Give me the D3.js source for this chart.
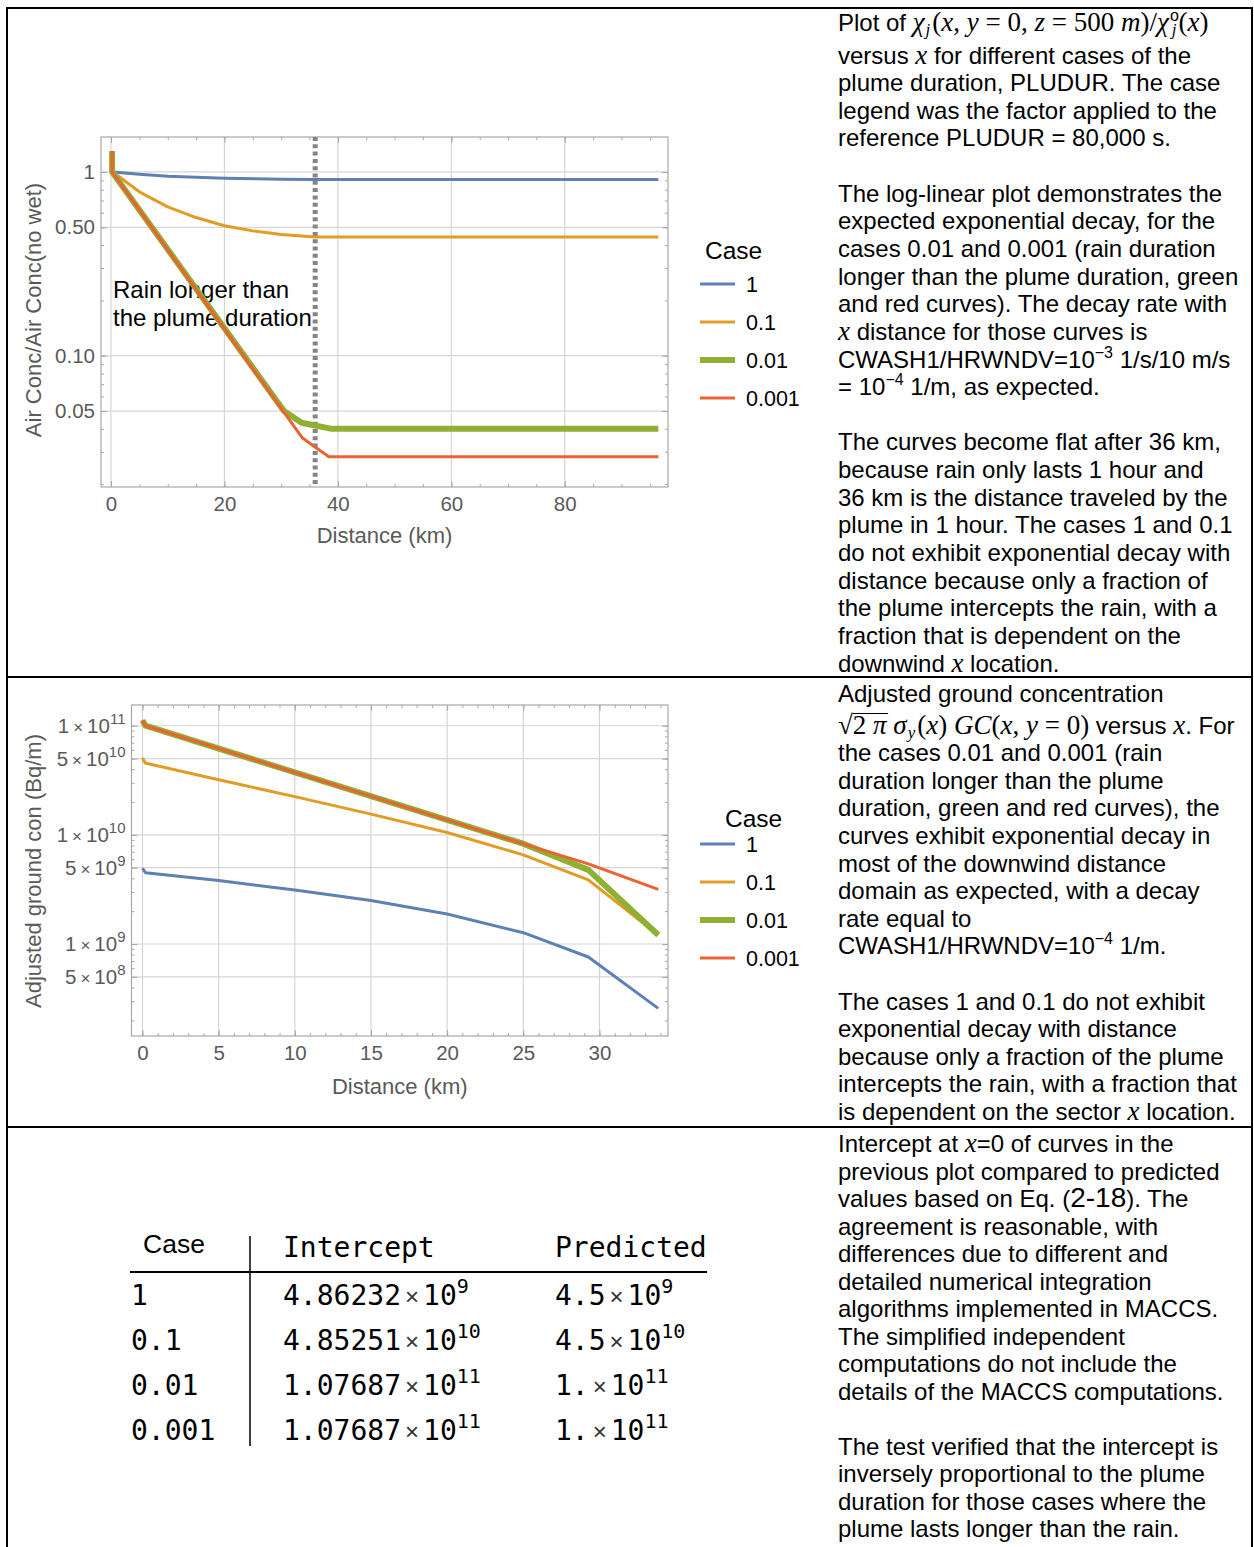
<!DOCTYPE html>
<html>
<head>
<meta charset="utf-8">
<script src="https://cdn.jsdelivr.net/npm/d3@7"></script>
<style>
  body { margin: 0; background: #fff; }
</style>
</head>
<body>
<svg id="page" width="1254" height="1547"></svg>
<script>
"use strict";

// ---- data ----
const caseNames = ["1", "0.1", "0.01", "0.001"];
const caseColors = ["#5e81b5", "#e19c24", "#8fb032", "#eb6235"];
const caseWidths = [3, 3, 6, 3];

// plot 1: Air Conc / Air Conc(no wet) vs distance (km)
const air1X = [0.3, 5, 10, 20, 30, 36, 96.5];
const air1Y = [1.0, 0.972, 0.948, 0.925, 0.913, 0.91, 0.91];
const air01X = [0.3, 5, 10, 15, 20, 25, 30, 36, 96.5];
const air01Y = [1.0, 0.78, 0.646, 0.565, 0.51, 0.478, 0.457, 0.443, 0.443];
const air001X = [0.2, 0.2, 30.5, 33.6, 38.9, 96.5];
const air001Y = [1.3, 1.0, 0.05, 0.0432, 0.040, 0.040];
const air0001X = [0.2, 0.2, 33.7, 38.4, 96.5];
const air0001Y = [1.3, 1.0, 0.0358, 0.0282, 0.0282];
const airXTicks = [0, 20, 40, 60, 80];
const airYTicks = [1, 0.5, 0.1, 0.05];
const airYLabels = ["1", "0.50", "0.10", "0.05"];
const rainEndKm = 36;

// plot 2: adjusted ground concentration (Bq/m) vs distance (km)
const gc1X = [0, 0.2, 5, 10, 15, 20, 25, 29.27, 33.86];
const gc1Y = [4.94e9, 4.5e9, 3.81e9, 3.12e9, 2.5e9, 1.88e9, 1.27e9, 7.6e8, 2.57e8];
const gc01X = [0, 0.18, 5, 10, 15, 20, 25, 29.27, 33.86];
const gc01Y = [5.06e10, 4.55e10, 3.2e10, 2.24e10, 1.55e10, 1.05e10, 6.56e9, 3.87e9, 1.21e9];
const gc001X = [0, 0.2, 25, 29.27, 33.86];
const gc001Y = [1.12e11, 1.0e11, 8.3e9, 4.78e9, 1.21e9];
const gc0001X = [0, 0.2, 25, 29.27, 33.86];
const gc0001Y = [1.12e11, 1.0e11, 8.26e9, 5.42e9, 3.17e9];
const gcXTicks = [0, 5, 10, 15, 20, 25, 30];
const gcYTicks = [1e11, 5e10, 1e10, 5e9, 1e9, 5e8];
const gcYMant = ["1", "5", "1", "5", "1", "5"];
const gcYExp = ["11", "10", "10", "9", "9", "8"];

// table
const tableCases = ["1", "0.1", "0.01", "0.001"];
const interceptMant = ["4.86232", "4.85251", "1.07687", "1.07687"];
const interceptExp = ["9", "10", "11", "11"];
const predictedMant = ["4.5", "4.5", "1.", "1."];
const predictedExp = ["9", "10", "11", "11"];

// ---- page ----
const svg = d3.select("#page");
const sans = "'Liberation Sans', Arial, sans-serif";
const serif = "'Liberation Serif', 'Times New Roman', serif";
const mono = "'DejaVu Sans Mono', monospace";
const frameColor = "#a8a8a8";
const gridColor = "#d6d6d6";
const labelColor = "#5a5a5a";

svg.append("rect").attr("width", 1254).attr("height", 1547).attr("fill", "#fff");

// cell borders
const borders = [[7, 8, 1253, 8], [7, 677, 1253, 677], [7, 1127, 1253, 1127], [7, 7, 7, 1547], [1252, 7, 1252, 1547]];
svg.selectAll(".border").data(borders).join("line")
    .attr("x1", d => d[0]).attr("y1", d => d[1]).attr("x2", d => d[2]).attr("y2", d => d[3])
    .attr("stroke", "#000").attr("stroke-width", 2);

function styleAxis(g) {
    g.select(".domain").remove();
    g.selectAll("line").attr("stroke", frameColor);
    g.selectAll("text").attr("fill", labelColor).attr("font-family", sans).attr("font-size", 20.5);
}

function minorLog(y) {
    let d = y.domain(), lo = Math.min(d[0], d[1]), hi = Math.max(d[0], d[1]);
    let out = [];
    for (let e = Math.floor(Math.log10(lo)); e <= Math.ceil(Math.log10(hi)); e++) {
        for (let m = 1; m < 10; m++) {
            let v = m * Math.pow(10, e);
            if (v >= lo && v <= hi) out.push(v);
        }
    }
    return out;
}

function drawPlot(p) {
    let g = svg.append("g");
    let [x0, x1] = p.x.range(), [y0, y1] = p.y.range();

    g.selectAll(".gx").data(p.xTicks).join("line")
        .attr("x1", d => p.x(d)).attr("x2", d => p.x(d)).attr("y1", y0).attr("y2", y1)
        .attr("stroke", gridColor).attr("stroke-width", 1.2);
    g.selectAll(".gy").data(p.yTicks).join("line")
        .attr("y1", d => p.y(d)).attr("y2", d => p.y(d)).attr("x1", x0).attr("x2", x1)
        .attr("stroke", gridColor).attr("stroke-width", 1.2);

    let xMinor = d3.range(Math.ceil(p.x.domain()[0] / p.xMinorStep) * p.xMinorStep, p.x.domain()[1], p.xMinorStep);
    let yMinor = minorLog(p.y);

    g.append("g").attr("transform", `translate(0,${y1})`)
        .call(d3.axisBottom(p.x).tickValues(xMinor).tickSize(-3).tickFormat("")).call(styleAxis);
    g.append("g").attr("transform", `translate(0,${y0})`)
        .call(d3.axisTop(p.x).tickValues(xMinor).tickSize(-3).tickFormat("")).call(styleAxis);
    g.append("g").attr("transform", `translate(${x0},0)`)
        .call(d3.axisLeft(p.y).tickValues(yMinor).tickSize(-3).tickFormat("")).call(styleAxis);
    g.append("g").attr("transform", `translate(${x1},0)`)
        .call(d3.axisRight(p.y).tickValues(yMinor).tickSize(-3).tickFormat("")).call(styleAxis);

    g.append("g").attr("transform", `translate(0,${y1})`)
        .call(d3.axisBottom(p.x).tickValues(p.xTicks).tickSize(-6).tickPadding(9)).call(styleAxis);
    g.append("g").attr("transform", `translate(0,${y0})`)
        .call(d3.axisTop(p.x).tickValues(p.xTicks).tickSize(-6).tickFormat("")).call(styleAxis);
    let left = g.append("g").attr("transform", `translate(${x0},0)`)
        .call(d3.axisLeft(p.y).tickValues(p.yTicks).tickSize(-6).tickPadding(p.yPad)
            .tickFormat((d, i) => p.yLabels[i])).call(styleAxis);
    g.append("g").attr("transform", `translate(${x1},0)`)
        .call(d3.axisRight(p.y).tickValues(p.yTicks).tickSize(-6).tickFormat("")).call(styleAxis);
    if (p.sciLabels) p.sciLabels(left);

    g.append("rect").attr("x", x0).attr("y", y0).attr("width", x1 - x0).attr("height", y1 - y0)
        .attr("fill", "none").attr("stroke", frameColor).attr("stroke-width", 1.2);

    if (p.extra) p.extra(g, p.x);

    let line = d3.line().x(d => p.x(d[0])).y(d => p.y(d[1]));
    p.series.forEach((s, i) => {
        g.append("path").attr("d", line(d3.zip(s[0], s[1])))
            .attr("fill", "none").attr("stroke", caseColors[i]).attr("stroke-width", caseWidths[i])
            .attr("stroke-linejoin", "round");
    });

    g.append("text").attr("x", (x0 + x1) / 2).attr("y", p.xTitleY).attr("text-anchor", "middle")
        .attr("font-family", sans).attr("font-size", 22).attr("fill", labelColor).text("Distance (km)");
    g.append("text").attr("transform", `translate(${p.yTitlePos[0]},${p.yTitlePos[1]}) rotate(-90)`)
        .attr("text-anchor", "middle").attr("font-family", sans).attr("font-size", 22)
        .attr("fill", labelColor).text(p.yTitle);

    // legend
    let lg = svg.append("g").attr("transform", `translate(700,${p.legendY})`);
    lg.append("text").attr("x", p.caseX).attr("y", 0).attr("dy", "0.35em")
        .attr("font-family", sans).attr("font-size", 24.5).attr("fill", "#000").text("Case");
    let items = lg.selectAll(".item").data(caseNames).join("g")
        .attr("transform", (d, i) => `translate(0,${p.firstItem + i * 38})`);
    items.append("line").attr("x1", 0).attr("x2", 35)
        .attr("stroke", (d, i) => caseColors[i]).attr("stroke-width", (d, i) => caseWidths[i]);
    items.append("text").attr("x", 46).attr("dy", "0.35em").attr("font-family", sans)
        .attr("font-size", 21.5).attr("fill", "#000").text(d => d);
}

// plot 1
drawPlot({
    x: d3.scaleLinear().domain([-1.76, 98.2]).range([101, 668]),
    y: d3.scaleLog().domain([1.55, 0.0193]).range([137, 487]),
    xTicks: airXTicks, xMinorStep: 5,
    yTicks: airYTicks, yLabels: airYLabels, yPad: 6,
    series: [[air1X, air1Y], [air01X, air01Y], [air001X, air001Y], [air0001X, air0001Y]],
    xTitleY: 543, yTitle: "Air Conc/Air Conc(no wet)", yTitlePos: [41, 310],
    legendY: 250, caseX: 5, firstItem: 34,
    extra: (g, x) => {
        g.append("line").attr("x1", x(rainEndKm)).attr("x2", x(rainEndKm)).attr("y1", 137).attr("y2", 487)
            .attr("stroke", "#858585").attr("stroke-width", 5).attr("stroke-dasharray", "4,3.3");
        g.append("text").attr("x", 113).attr("y", 298).attr("font-family", sans).attr("font-size", 24)
            .attr("fill", "#000").text("Rain longer than");
        g.append("text").attr("x", 113).attr("y", 326).attr("font-family", sans).attr("font-size", 24)
            .attr("fill", "#000").text("the plume duration");
    }
});

// plot 2
drawPlot({
    x: d3.scaleLinear().domain([-0.72, 34.5]).range([131.5, 668]),
    y: d3.scaleLog().domain([Math.pow(10, 11.19), Math.pow(10, 8.157)]).range([705, 1036]),
    xTicks: gcXTicks, xMinorStep: 1,
    yTicks: gcYTicks, yLabels: gcYMant, yPad: 6,
    series: [[gc1X, gc1Y], [gc01X, gc01Y], [gc001X, gc001Y], [gc0001X, gc0001Y]],
    xTitleY: 1094, yTitle: "Adjusted ground con (Bq/m)", yTitlePos: [41, 871],
    legendY: 818, caseX: 25, firstItem: 26,
    sciLabels: left => {
        left.selectAll(".tick text").each(function (d, i) {
            let t = d3.select(this).text(null);
            t.append("tspan").text(gcYMant[i]);
            t.append("tspan").attr("font-size", 17).attr("dx", 4).text("×");
            t.append("tspan").attr("dx", 4).text("10");
            t.append("tspan").attr("font-size", 15).attr("dy", -9).text(gcYExp[i]);
        });
    }
});

// ---- table ----
const tbl = svg.append("g");
tbl.append("text").attr("x", 143).attr("y", 1253).attr("font-family", sans).attr("font-size", 26.5)
    .attr("fill", "#000").text("Case");
tbl.append("text").attr("x", 283).attr("y", 1257).attr("font-family", mono).attr("font-size", 28)
    .attr("fill", "#000").text("Intercept");
tbl.append("text").attr("x", 555).attr("y", 1257).attr("font-family", mono).attr("font-size", 28)
    .attr("fill", "#000").text("Predicted");
tbl.append("line").attr("x1", 130).attr("x2", 707).attr("y1", 1272).attr("y2", 1272)
    .attr("stroke", "#000").attr("stroke-width", 2);
tbl.append("line").attr("x1", 250).attr("x2", 250).attr("y1", 1236).attr("y2", 1446)
    .attr("stroke", "#000").attr("stroke-width", 1.5);

function sciCell(sel, x, mant, exp) {
    let t = sel.append("text").attr("x", x).attr("font-family", mono).attr("font-size", 28).attr("fill", "#000");
    t.append("tspan").text(mant);
    t.append("tspan").attr("font-family", sans).attr("font-size", 24).attr("dx", 4).attr("fill", "#333").text("×");
    t.append("tspan").attr("dx", 4).text("10");
    t.append("tspan").attr("font-size", 20).attr("dy", -12).text(exp);
}

const rows = tbl.selectAll(".row").data(tableCases).join("g")
    .attr("transform", (d, i) => `translate(0,${1305 + i * 45})`);
rows.append("text").attr("x", 131).attr("font-family", mono).attr("font-size", 28).attr("fill", "#000").text(d => d);
rows.each(function (d, i) {
    sciCell(d3.select(this), 283, interceptMant[i], interceptExp[i]);
    sciCell(d3.select(this), 555, predictedMant[i], predictedExp[i]);
});

// ---- text column ----
// segments: [kind, text, dx]; kind "" sans, "i" math italic, "r" math roman, "b" subscript, "p" superscript, "o" under the root bar
const cell1 = [
    [["", "Plot of "], ["i", "χ"], ["b", "j", 1], ["r", "(", 2], ["i", "x"], ["r", ", "], ["i", "y"], ["r", " = 0, "],
     ["i", "z"], ["r", " = 500 "], ["i", "m"], ["r", ")/"], ["i", "χ"], ["p", "o", 1], ["b", "j", -7], ["r", "(", 2],
     ["i", "x"], ["r", ")"]],
    [["", "versus "], ["i", "x"], ["", " for different cases of the"]],
    "plume duration, PLUDUR. The case",
    "legend was the factor applied to the",
    "reference PLUDUR = 80,000 s.",
    "",
    "The log-linear plot demonstrates the",
    "expected exponential decay, for the",
    "cases 0.01 and 0.001 (rain duration",
    "longer than the plume duration, green",
    "and red curves). The decay rate with",
    [["i", "x"], ["", " distance for those curves is"]],
    [["", "CWASH1/HRWNDV=10"], ["p", "−3"], ["", "  1/s/10 m/s"]],
    [["", "= 10"], ["p", "−4"], ["", " 1/m, as expected."]],
    "",
    "The curves become flat after 36 km,",
    "because rain only lasts 1 hour and",
    "36 km is the distance traveled by the",
    "plume in 1 hour. The cases 1 and 0.1",
    "do not exhibit exponential decay with",
    "distance because only a fraction of",
    "the plume intercepts the rain, with a",
    "fraction that is dependent on the",
    [["", "downwind "], ["i", "x"], ["", " location."]]
];
const cell2 = [
    "Adjusted ground concentration",
    [["r", "√"], ["o", "2 "], ["oi", "π"], ["i", " σ"], ["b", "y", 1], ["r", "(", 2], ["i", "x"], ["r", ") "], ["i", "GC"],
     ["r", "("], ["i", "x"], ["r", ", "], ["i", "y"], ["r", " = 0)"], ["", " versus "], ["i", "x"], ["", ". For"]],
    "the cases 0.01 and 0.001 (rain",
    "duration longer than the plume",
    "duration, green and red curves), the",
    "curves exhibit exponential decay in",
    "most of the downwind distance",
    "domain as expected, with a decay",
    "rate equal to",
    [["", "CWASH1/HRWNDV=10"], ["p", "−4"], ["", "  1/m."]],
    "",
    "The cases 1 and 0.1 do not exhibit",
    "exponential decay with distance",
    "because only a fraction of the plume",
    "intercepts the rain, with a fraction that",
    [["", "is dependent on the sector "], ["i", "x"], ["", " location."]]
];
const cell3 = [
    [["", "Intercept at "], ["i", "x"], ["", "=0 of curves in the"]],
    "previous plot compared to predicted",
    [["", "values based on Eq. ("], ["big", "2-18"], ["", "). The"]],
    "agreement is reasonable, with",
    "differences due to different and",
    "detailed numerical integration",
    "algorithms implemented in MACCS.",
    "The simplified independent",
    "computations do not include the",
    "details of the MACCS computations.",
    "",
    "The test verified that the intercept is",
    "inversely proportional to the plume",
    "duration for those cases where the",
    "plume lasts longer than the rain."
];

const textSize = 24;
const mathSize = 27;
function richLine(x, y, segs) {
    let t = svg.append("text").attr("x", x).attr("y", y).attr("font-family", sans)
        .attr("font-size", textSize).attr("fill", "#000");
    if (typeof segs === "string") { t.text(segs); return; }
    let shift = 0;
    let barSpans = [];
    segs.forEach(s => {
        let k = s[0];
        let sp = t.append("tspan").text(s[1]);
        let target = k === "p" ? -10 : k === "b" ? 4 : 0;
        if (target !== shift) { sp.attr("dy", target - shift); shift = target; }
        if (k === "i" || k === "oi") sp.attr("font-family", serif).attr("font-style", "italic").attr("font-size", mathSize);
        if (k === "r" || k === "o") sp.attr("font-family", serif).attr("font-size", mathSize);
        if (k === "o" || k === "oi") barSpans.push(sp.node());
        if (k === "b") sp.attr("font-family", serif).attr("font-style", "italic").attr("font-size", 17);
        if (k === "p") sp.attr("font-size", 16);
        if (k === "big") sp.attr("font-size", 28);
        if (s[2]) sp.attr("dx", s[2]);
    });
    if (barSpans.length) {
        // root bar over the radicand
        let b0 = barSpans[0].getBBox(), b1 = barSpans[barSpans.length - 1].getBBox();
        svg.append("line").attr("x1", b0.x).attr("x2", b1.x + b1.width)
            .attr("y1", y - 20).attr("y2", y - 20).attr("stroke", "#000").attr("stroke-width", 1.2);
    }
}

function cellBlock(lines, firstY, secondY, step) {
    lines.forEach((l, i) => {
        let y = i === 0 ? firstY : secondY + (i - 1) * step;
        if (l !== "") richLine(838, y + 8.5, l);
    });
}
cellBlock(cell1, 22, 55, 27.64);
cellBlock(cell2, 693, 725, 27.6);
cellBlock(cell3, 1143, 1171, 27.5);
</script>
</body>
</html>
